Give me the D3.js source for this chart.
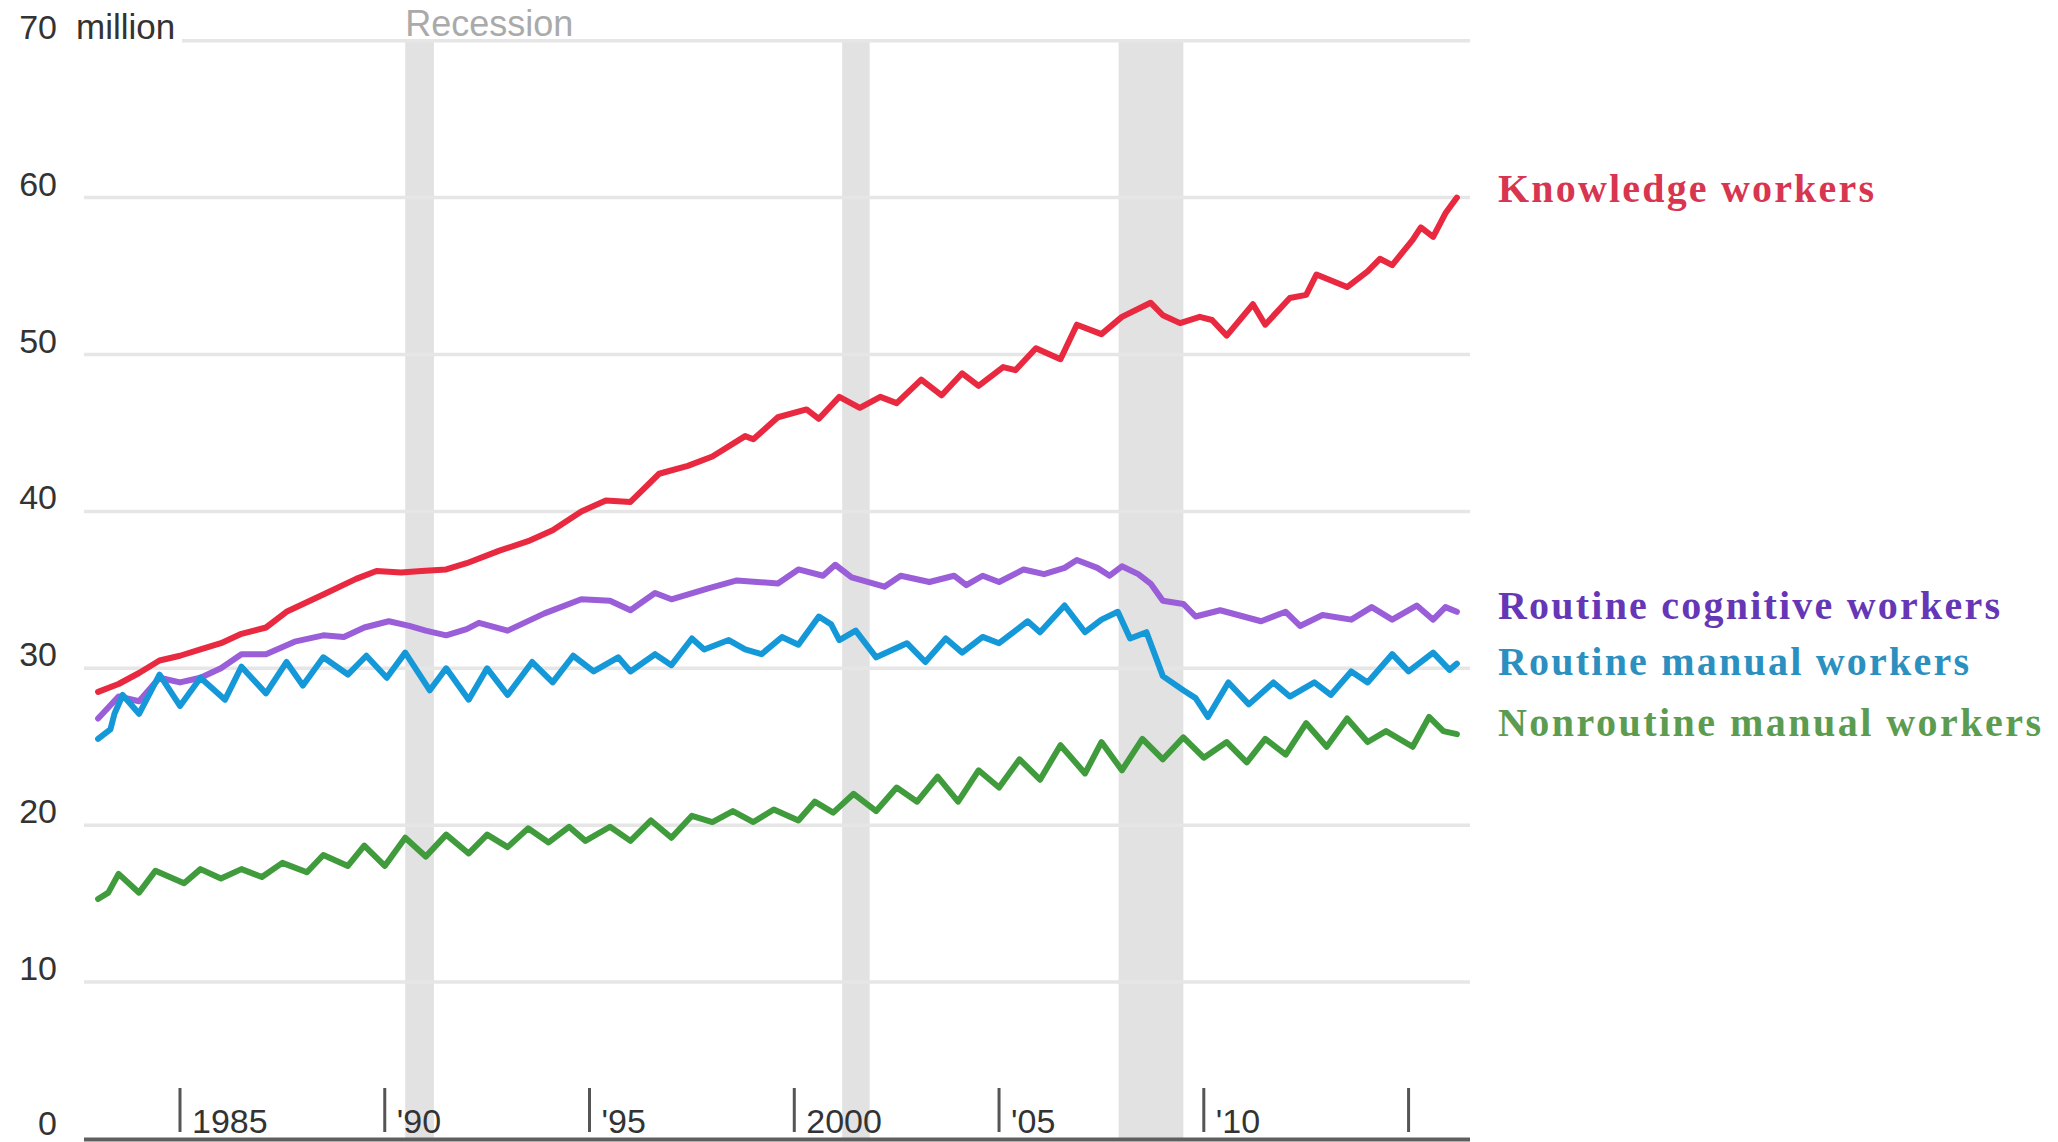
<!DOCTYPE html>
<html>
<head>
<meta charset="utf-8">
<script src="https://cdn.jsdelivr.net/npm/d3@7"></script>
<style>
  html, body { margin: 0; padding: 0; background: #ffffff; }
  svg { display: block; }
</style>
</head>
<body>
<svg id="chart" width="2058" height="1142"></svg>
<script>
// ---------------- DATA ----------------
const yTicks = [0, 10, 20, 30, 40, 50, 60, 70];
const xTickYears = [1985, 1990, 1995, 2000, 2005, 2010, 2015];
const xTickLabels = ["1985", "'90", "'95", "2000", "'05", "'10", ""];
const recessionPeriods = [[1990.5, 1991.2], [2001.17, 2001.84], [2007.92, 2009.5]];
const seriesNames = ["Knowledge workers", "Routine cognitive workers", "Routine manual workers", "Nonroutine manual workers"];

// [year, millions]
const knowledgeWorkers = [
  [1983.0, 28.5], [1983.5, 29.0], [1984.0, 29.7], [1984.5, 30.5], [1985.0, 30.8], [1985.5, 31.2],
  [1986.0, 31.6], [1986.5, 32.2], [1987.1, 32.6], [1987.6, 33.6], [1988.5, 34.7], [1989.3, 35.7],
  [1989.8, 36.2], [1990.4, 36.1], [1990.9, 36.2], [1991.5, 36.3], [1992.0, 36.7], [1992.8, 37.5],
  [1993.5, 38.1], [1994.1, 38.8], [1994.8, 40.0], [1995.4, 40.7], [1996.0, 40.6], [1996.7, 42.4],
  [1997.4, 42.9], [1998.0, 43.5], [1998.8, 44.8], [1999.0, 44.6], [1999.6, 46.0], [2000.3, 46.5],
  [2000.6, 45.9], [2001.1, 47.3], [2001.6, 46.6], [2002.1, 47.3], [2002.5, 46.9], [2003.1, 48.4],
  [2003.6, 47.4], [2004.1, 48.8], [2004.5, 48.0], [2005.1, 49.2], [2005.4, 49.0], [2005.9, 50.4],
  [2006.5, 49.7], [2006.9, 51.9], [2007.5, 51.3], [2008.0, 52.4], [2008.7, 53.3], [2009.0, 52.5],
  [2009.42, 52.0], [2009.9, 52.4], [2010.2, 52.2], [2010.56, 51.2], [2011.2, 53.2], [2011.5, 51.9],
  [2012.1, 53.6], [2012.5, 53.8], [2012.75, 55.1], [2013.5, 54.3], [2014.0, 55.3], [2014.3, 56.1],
  [2014.6, 55.7], [2015.1, 57.3], [2015.3, 58.1], [2015.6, 57.5], [2015.9, 59.0], [2016.18, 60.0]
];

const routineCognitiveWorkers = [
  [1983.0, 26.8], [1983.5, 28.2], [1984.0, 27.9], [1984.5, 29.4], [1985.0, 29.1], [1985.5, 29.4],
  [1986.0, 30.0], [1986.5, 30.9], [1987.1, 30.9], [1987.8, 31.7], [1988.5, 32.1], [1989.0, 32.0],
  [1989.5, 32.6], [1990.1, 33.0], [1990.6, 32.7], [1991.0, 32.4], [1991.5, 32.1], [1992.0, 32.5],
  [1992.3, 32.9], [1993.0, 32.4], [1993.9, 33.5], [1994.8, 34.4], [1995.5, 34.3], [1996.0, 33.7],
  [1996.6, 34.8], [1997.0, 34.4], [1997.9, 35.1], [1998.6, 35.6], [1999.6, 35.4], [2000.1, 36.3],
  [2000.7, 35.9], [2001.0, 36.6], [2001.4, 35.8], [2002.2, 35.2], [2002.6, 35.9], [2003.3, 35.5],
  [2003.9, 35.9], [2004.2, 35.3], [2004.6, 35.9], [2005.0, 35.5], [2005.6, 36.3], [2006.1, 36.0],
  [2006.6, 36.4], [2006.9, 36.9], [2007.4, 36.4], [2007.7, 35.9], [2008.0, 36.5], [2008.4, 36.0],
  [2008.7, 35.4], [2009.0, 34.3], [2009.5, 34.1], [2009.8, 33.3], [2010.4, 33.7], [2011.4, 33.0],
  [2012.0, 33.6], [2012.35, 32.7], [2012.9, 33.4], [2013.6, 33.1], [2014.1, 33.9], [2014.6, 33.1],
  [2015.2, 34.0], [2015.6, 33.1], [2015.9, 33.9], [2016.18, 33.6]
];

const routineManualWorkers = [
  [1983.0, 25.5], [1983.3, 26.1], [1983.4, 27.1], [1983.6, 28.3], [1984.0, 27.1], [1984.5, 29.6],
  [1985.0, 27.6], [1985.5, 29.4], [1986.1, 28.0], [1986.5, 30.1], [1987.1, 28.4], [1987.6, 30.4],
  [1988.0, 28.9], [1988.5, 30.7], [1989.1, 29.6], [1989.55, 30.8], [1990.05, 29.4], [1990.5, 31.0],
  [1991.1, 28.6], [1991.5, 30.0], [1992.05, 28.0], [1992.5, 30.0], [1993.0, 28.3], [1993.6, 30.4],
  [1994.1, 29.1], [1994.6, 30.8], [1995.1, 29.8], [1995.7, 30.7], [1996.0, 29.8], [1996.6, 30.9],
  [1997.0, 30.2], [1997.5, 31.9], [1997.8, 31.2], [1998.4, 31.8], [1998.8, 31.2], [1999.2, 30.9],
  [1999.7, 32.0], [2000.1, 31.5], [2000.6, 33.3], [2000.9, 32.8], [2001.1, 31.8], [2001.5, 32.4],
  [2002.0, 30.7], [2002.75, 31.6], [2003.2, 30.4], [2003.7, 31.9], [2004.1, 31.0], [2004.6, 32.0],
  [2005.0, 31.6], [2005.7, 33.0], [2006.0, 32.3], [2006.6, 34.0], [2007.1, 32.3], [2007.5, 33.1],
  [2007.9, 33.6], [2008.2, 31.9], [2008.6, 32.3], [2009.0, 29.5], [2009.5, 28.6], [2009.8, 28.1],
  [2010.1, 26.9], [2010.6, 29.1], [2011.1, 27.7], [2011.7, 29.1], [2012.1, 28.2], [2012.7, 29.1],
  [2013.1, 28.3], [2013.6, 29.8], [2014.0, 29.1], [2014.6, 30.9], [2015.0, 29.8], [2015.6, 31.0],
  [2016.0, 29.9], [2016.18, 30.3]
];

const nonroutineManualWorkers = [
  [1983.0, 15.3], [1983.25, 15.7], [1983.5, 16.9], [1984.0, 15.7], [1984.4, 17.1], [1985.1, 16.3],
  [1985.5, 17.2], [1986.0, 16.6], [1986.5, 17.2], [1987.0, 16.7], [1987.5, 17.6], [1988.1, 17.0],
  [1988.5, 18.1], [1989.1, 17.4], [1989.5, 18.7], [1990.0, 17.4], [1990.5, 19.2], [1991.0, 18.0],
  [1991.5, 19.4], [1992.05, 18.2], [1992.5, 19.4], [1993.0, 18.6], [1993.5, 19.8], [1994.0, 18.9],
  [1994.5, 19.9], [1994.9, 19.0], [1995.5, 19.9], [1996.0, 19.0], [1996.5, 20.3], [1997.0, 19.2],
  [1997.5, 20.6], [1998.0, 20.2], [1998.5, 20.9], [1999.0, 20.2], [1999.5, 21.0], [2000.1, 20.3],
  [2000.5, 21.5], [2000.95, 20.8], [2001.45, 22.0], [2002.0, 20.9], [2002.5, 22.4], [2003.0, 21.5],
  [2003.5, 23.1], [2004.0, 21.5], [2004.5, 23.5], [2005.0, 22.4], [2005.5, 24.2], [2006.0, 22.9],
  [2006.5, 25.1], [2007.1, 23.3], [2007.5, 25.3], [2008.0, 23.5], [2008.5, 25.5], [2009.0, 24.2],
  [2009.5, 25.6], [2010.0, 24.3], [2010.56, 25.3], [2011.05, 24.0], [2011.5, 25.5], [2012.0, 24.5],
  [2012.5, 26.5], [2013.0, 25.0], [2013.5, 26.8], [2014.0, 25.3], [2014.45, 26.0], [2015.1, 25.0],
  [2015.5, 26.9], [2015.85, 26.0], [2016.18, 25.8]
];

// ---------------- LAYOUT / STYLE ----------------
const plotLeft = 84, plotRight = 1470;
const yTop = 40.7, yBottom = 1139;

const svg = d3.select("#chart");
const x = d3.scaleLinear().domain([1982.656, 2016.5]).range([plotLeft, plotRight]);
const y = d3.scaleLinear().domain([0, 70]).range([yBottom, yTop]);

const sansFont = "'Liberation Sans', Arial, Helvetica, sans-serif";
const serifFont = "'Liberation Serif', 'Times New Roman', serif";

// recession bands
svg.append("g").selectAll("rect")
  .data(recessionPeriods).join("rect")
  .attr("x", d => x(d[0]))
  .attr("width", d => x(d[1]) - x(d[0]))
  .attr("y", y(70))
  .attr("height", y(0) - y(70))
  .attr("fill", "#e2e2e2");

// gridlines
svg.append("g").selectAll("line")
  .data(yTicks.filter(t => t > 0)).join("line")
  .attr("x1", d => d === 70 ? 182 : plotLeft)
  .attr("x2", plotRight)
  .attr("y1", d => y(d))
  .attr("y2", d => y(d))
  .attr("stroke", "#e6e6e6")
  .attr("stroke-width", 3.5);

// y labels
svg.append("g").selectAll("text")
  .data(yTicks).join("text")
  .attr("x", 57)
  .attr("y", d => d === 0 ? y(d) - 4 : y(d) - 2)
  .attr("text-anchor", "end")
  .attr("font-family", sansFont)
  .attr("font-size", 34)
  .attr("fill", "#333")
  .text(d => d);

svg.append("text")
  .attr("x", 76).attr("y", y(70) - 2)
  .attr("font-family", sansFont).attr("font-size", 35).attr("fill", "#333")
  .text("million");

svg.append("text")
  .attr("x", x(recessionPeriods[0][0])).attr("y", 36)
  .attr("font-family", sansFont).attr("font-size", 36).attr("fill", "#aaaaaa")
  .text("Recession");

// x axis baseline
svg.append("line")
  .attr("x1", plotLeft).attr("x2", plotRight)
  .attr("y1", y(0) + 0.5).attr("y2", y(0) + 0.5)
  .attr("stroke", "#5f5f5f").attr("stroke-width", 4);

// x ticks
const xt = svg.append("g").selectAll("g")
  .data(xTickYears.map((yr, i) => ({ yr, label: xTickLabels[i] }))).join("g")
  .attr("transform", d => `translate(${x(d.yr)},0)`);
xt.append("line")
  .attr("y1", 1088).attr("y2", 1132)
  .attr("stroke", "#555").attr("stroke-width", 3);
xt.append("text")
  .attr("x", 12).attr("y", 1133)
  .attr("font-family", sansFont).attr("font-size", 34).attr("fill", "#333")
  .text(d => d.label);

// series lines
const series = [
  { name: seriesNames[3], data: nonroutineManualWorkers, color: "#3f9b3c", labelColor: "#5c9c50", ly: 736, lw: 543 },
  { name: seriesNames[1], data: routineCognitiveWorkers, color: "#9a5ed8", labelColor: "#6537b6", ly: 619, lw: 502 },
  { name: seriesNames[2], data: routineManualWorkers, color: "#1598d8", labelColor: "#2b90c0", ly: 675, lw: 471 },
  { name: seriesNames[0], data: knowledgeWorkers, color: "#e8293f", labelColor: "#d83550", ly: 202, lw: 376 }
];

const line = d3.line().x(d => x(d[0])).y(d => y(d[1])).curve(d3.curveLinear);

svg.append("g").selectAll("path")
  .data(series).join("path")
  .attr("d", d => line(d.data))
  .attr("fill", "none")
  .attr("stroke", d => d.color)
  .attr("stroke-width", 6)
  .attr("stroke-linejoin", "round")
  .attr("stroke-linecap", "round");

// series labels
svg.append("g").selectAll("text")
  .data(series).join("text")
  .attr("x", 1498)
  .attr("y", d => d.ly)
  .attr("font-family", serifFont)
  .attr("font-weight", "bold")
  .attr("font-size", 40)
  .attr("fill", d => d.labelColor)
  .attr("textLength", d => d.lw)
  .attr("lengthAdjust", "spacing")
  .text(d => d.name);
</script>
</body>
</html>
